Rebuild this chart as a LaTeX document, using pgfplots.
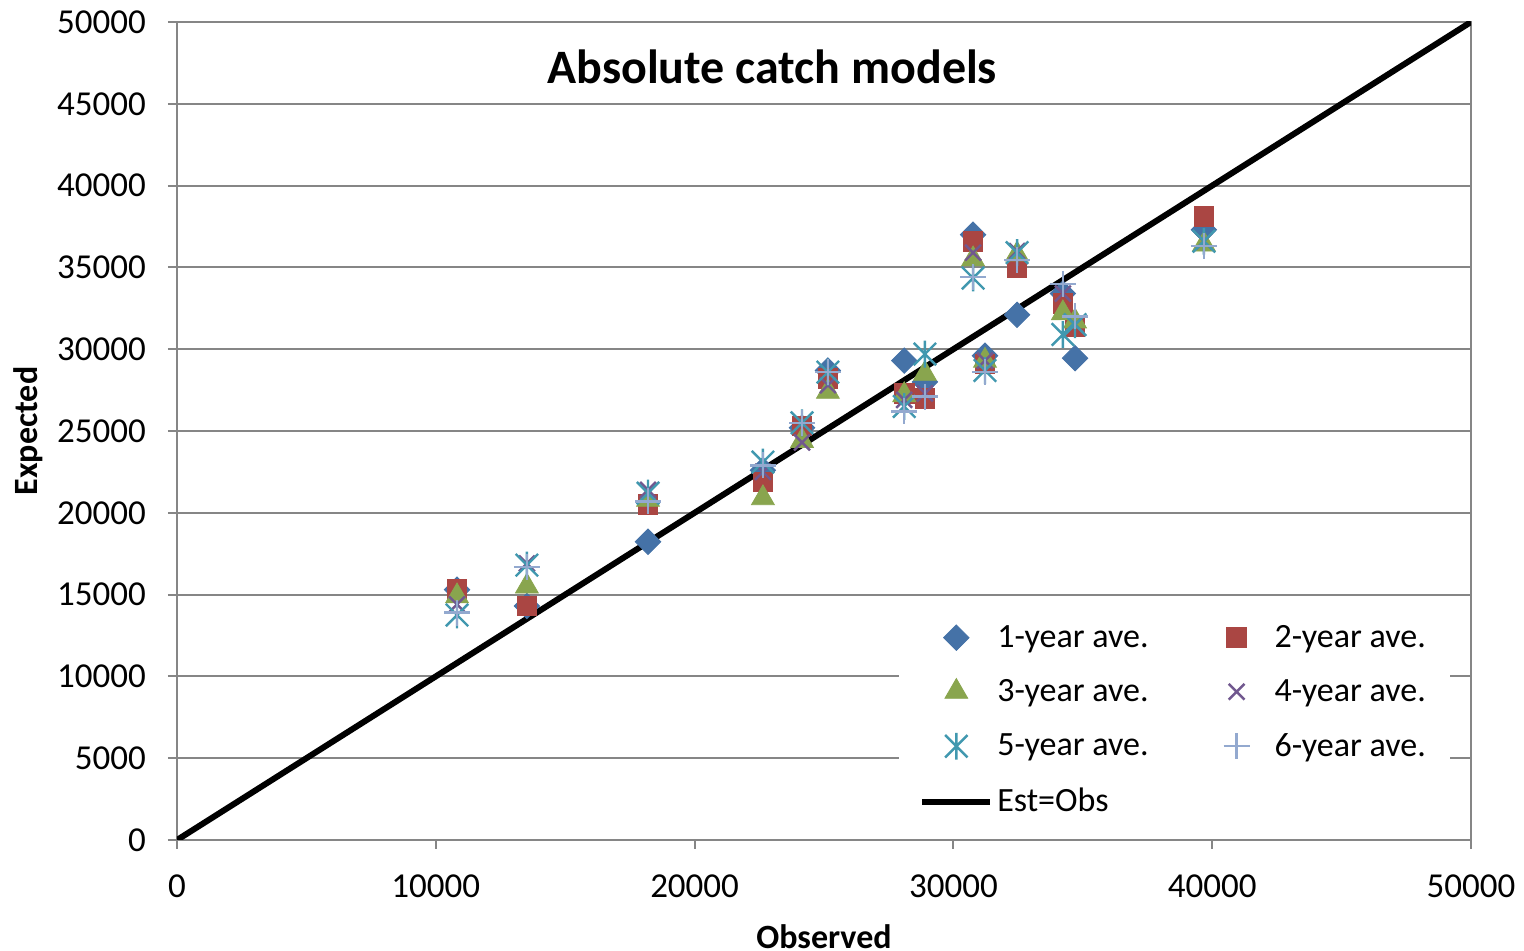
\documentclass[border=0pt]{standalone}
\usepackage{pgfplots}
\usepackage{pgfplotstable}
\pgfplotsset{compat=1.18}
\usepackage{fontspec}
\setmainfont{Carlito}
\definecolor{c1}{RGB}{69,114,167}
\definecolor{c2}{RGB}{170,70,67}
\definecolor{c3}{RGB}{137,165,78}
\definecolor{c4}{RGB}{113,88,143}
\definecolor{c5}{RGB}{65,152,175}
\definecolor{c6}{RGB}{147,169,207}
\definecolor{gridg}{RGB}{134,134,134}
\pgfdeclareplotmark{xast}{%
  \pgfpathmoveto{\pgfqpoint{-\pgfplotmarksize}{-\pgfplotmarksize}}%
  \pgfpathlineto{\pgfqpoint{\pgfplotmarksize}{\pgfplotmarksize}}%
  \pgfpathmoveto{\pgfqpoint{-\pgfplotmarksize}{\pgfplotmarksize}}%
  \pgfpathlineto{\pgfqpoint{\pgfplotmarksize}{-\pgfplotmarksize}}%
  \pgfpathmoveto{\pgfqpoint{0pt}{-1.2\pgfplotmarksize}}%
  \pgfpathlineto{\pgfqpoint{0pt}{1.2\pgfplotmarksize}}%
  \pgfusepathqstroke}
\pgfplotstableread{
obs y1 y2 y3 y4 y5 y6
10820 15300 15300 14900 14400 13750 13900
13520 14300 14300 15500 16900 16800 16700
18200 18230 20500 20800 21400 21200 20700
22640 22600 21900 20900 22500 23100 22900
24150 25200 25300 24400 24300 25500 25500
25150 28700 28200 27400 27800 28600 28600
28100 29300 27300 27200 26900 26500 26200
28900 28000 27000 28500 27300 29700 27100
30760 37000 36600 35500 35900 34350 34400
31220 29600 29100 29300 29300 28700 28600
32460 32100 35000 35800 36000 35900 35450
34230 33400 32800 32200 33400 30900 34000
34700 29450 31400 31700 31500 31500 32000
39680 37300 38100 36400 36600 36600 36300
}\datatab
\begin{document}
\begin{tikzpicture}
\begin{axis}[
  scale only axis, width=647pt, height=409pt,
  xmin=0, xmax=50000, ymin=0, ymax=50000,
  xtick={0,10000,...,50000}, ytick={0,5000,...,50000},
  scaled ticks=false,
  /pgf/number format/1000 sep={},
  /pgf/number format/assume math mode=true,
  ymajorgrids, grid style={gridg, line width=1pt},
  axis line style={gridg, line width=1pt},
  tick align=outside, xtick pos=left, ytick pos=left,
  tick style={gridg, line width=1pt}, major tick length=4.5pt,
  ticklabel style={font=\fontsize{17.5}{20}\selectfont, text=black},
  yticklabel style={xshift=-7.5pt},
  xticklabel style={yshift=-9.5pt},
  title={Absolute catch models},
  title style={at={(axis description cs:0.46,0.944)}, anchor=center, yshift=-5.5pt, font=\bfseries\fontsize{24}{28}\selectfont},
  xlabel={Observed}, ylabel={Expected},
  label style={font=\bfseries\fontsize{17}{20}\selectfont},
  xlabel style={at={(axis description cs:0.5,-0.1186)}, anchor=center},
  ylabel style={at={(axis description cs:-0.1151,0.5)}, anchor=center},
  legend columns=2,
  legend image code/.code={\draw[mark repeat=2,mark phase=2,#1] plot coordinates {(0pt,0pt) (17pt,0pt) (34pt,0pt)}; \path[draw=none,fill=none] (0pt,0pt) (34pt,0pt);},
  legend style={at={(axis description cs:0.984,0.0156)}, anchor=south east, draw=none, fill=white,
    font=\fontsize{17}{20}\selectfont, row sep=10.5pt, inner xsep=10pt, inner ysep=4pt,
    /tikz/every even column/.append style={column sep=25pt}},
  legend cell align=left,
]
\coordinate (LL) at (rel axis cs:0,0);
\coordinate (UR) at (rel axis cs:1,1);
\addplot[black, line width=3pt, forget plot] coordinates {(0,0) (50000,50000)};
\addplot[only marks, mark=square*, mark size=4.5pt, mark options={rotate=45, fill=c1, draw=c1}] table[x=obs, y=y1] {\datatab};
\addlegendentry{1-year ave.}
\addplot[only marks, mark=square*, mark size=4.9pt, mark options={fill=c2, draw=c2}] table[x=obs, y=y2] {\datatab};
\addlegendentry{2-year ave.}
\addplot[only marks, mark=triangle*, mark size=6.6pt, mark options={fill=c3, draw=c3}] table[x=obs, y=y3] {\datatab};
\addlegendentry{3-year ave.}
\addplot[only marks, mark=x, mark size=5.6pt, mark options={draw=c4, line width=1.2pt}] table[x=obs, y=y4] {\datatab};
\addlegendentry{4-year ave.}
\addplot[only marks, mark=xast, mark size=5.6pt, mark options={draw=c5, line width=1.2pt}] table[x=obs, y=y5] {\datatab};
\addlegendentry{5-year ave.}
\addplot[only marks, mark=+, mark size=6.5pt, mark options={draw=c6, line width=1.2pt}] table[x=obs, y=y6] {\datatab};
\addlegendentry{6-year ave.}
\addlegendimage{black, line width=3pt}
\addlegendentry{Est=Obs}
\end{axis}
\pgfresetboundingbox
\path ([shift={(-88.5pt,-55.5pt)}]LL) rectangle ([shift={(26.5pt,11pt)}]UR);
\end{tikzpicture}
\end{document}
